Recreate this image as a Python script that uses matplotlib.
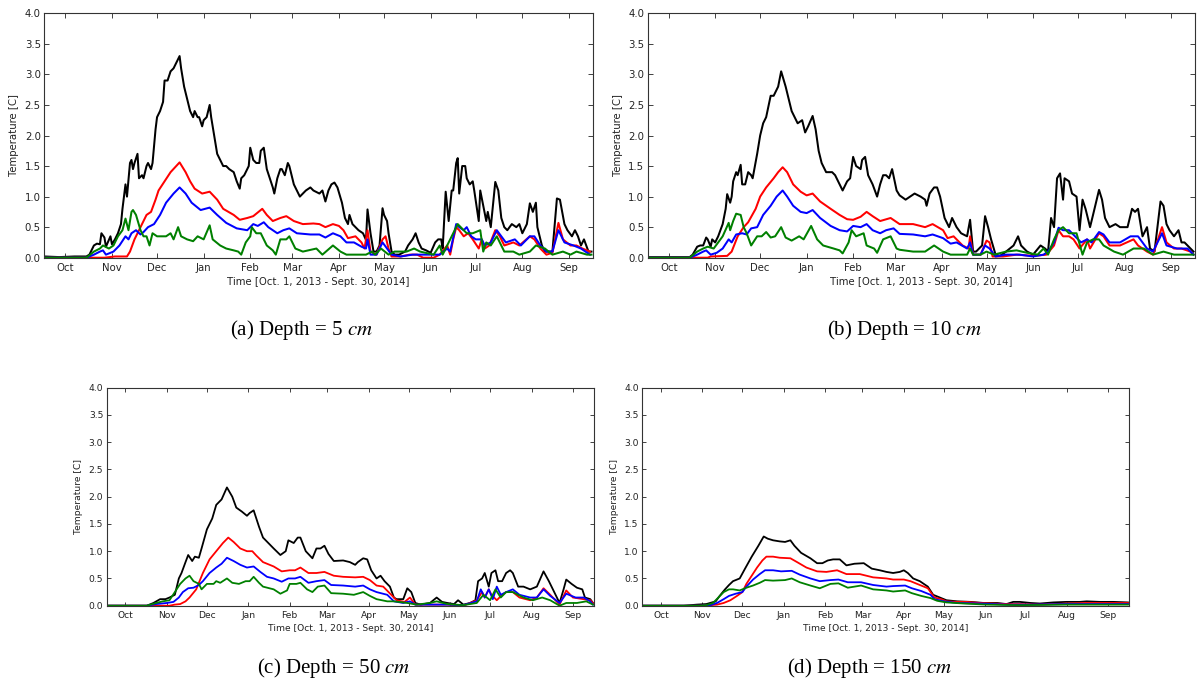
import numpy as np
import matplotlib
matplotlib.use("Agg")
import matplotlib.pyplot as plt
import matplotlib.dates as mdates

# Series are (day since Oct 1 2013, temperature) pairs
# ---- (a) Depth = 5 cm ----
a_black = [(0,0.02),(10,0.01),(20,0.02),(28,0.02),(30,0.05),(33,0.2),(35,0.23),(37,0.22),(38,0.4),(40,0.33),(41,0.18),(44,0.35),(45,0.22),(47,0.3),(49,0.4),(51,0.55),(52,0.8),(54,1.2),(55,1.0),(57,1.55),(58,1.6),(59,1.45),(60,1.55),(62,1.7),(63,1.3),(65,1.35),(66,1.3),(68,1.5),(69,1.55),(71,1.45),(72,1.55),(74,2.1),(75,2.3),(77,2.4),(79,2.55),(80,2.9),(82,2.9),(84,3.05),(86,3.1),(88,3.2),(90,3.3),(91,3.1),(93,2.8),(95,2.6),(97,2.4),(99,2.3),(100,2.4),(102,2.3),(103,2.3),(105,2.15),(106,2.25),(108,2.3),(110,2.5),(111,2.3),(113,2.0),(115,1.7),(117,1.6),(119,1.5),(121,1.5),(123,1.45),(126,1.4),(128,1.25),(130,1.13),(131,1.3),(133,1.35),(136,1.5),(137,1.8),(139,1.6),(141,1.55),(143,1.55),(144,1.75),(146,1.8),(148,1.45),(150,1.3),(152,1.15),(153,1.05),(155,1.3),(157,1.45),(158,1.45),(160,1.35),(162,1.55),(163,1.5),(166,1.2),(168,1.1),(170,1.0),(172,1.05),(174,1.1),(177,1.15),(179,1.1),(183,1.05),(185,1.1),(187,0.92),(189,1.1),(191,1.2),(193,1.23),(195,1.15),(198,0.9),(200,0.65),(202,0.55),(203,0.7),(205,0.55),(209,0.45),(212,0.4),(214,0.29),(215,0.79),(217,0.4),(219,0.1),(221,0.1),(223,0.2),(225,0.81),(226,0.7),(228,0.6),(229,0.4),(231,0.1),(233,0.05),(236,0.05),(240,0.1),(242,0.2),(245,0.3),(247,0.4),(249,0.25),(251,0.15),(254,0.12),(257,0.08),(260,0.25),(262,0.3),(264,0.3),(265,0.15),(267,1.08),(269,0.6),(271,1.1),(272,1.1),(274,1.55),(275,1.63),(276,1.05),(278,1.5),(280,1.5),(281,1.3),(283,1.2),(285,1.25),(286,1.1),(289,0.6),(290,1.1),(292,0.85),(294,0.6),(295,0.75),(297,0.5),(300,1.24),(302,1.1),(304,0.65),(306,0.5),(308,0.45),(311,0.55),(314,0.5),(316,0.55),(318,0.4),(321,0.55),(323,0.89),(325,0.75),(327,0.9),(328,0.5),(331,0.2),(333,0.1),(335,0.1),(338,0.1),(341,0.97),(343,0.95),(346,0.55),(348,0.45),(351,0.35),(353,0.45),(355,0.35),(357,0.2),(359,0.3),(362,0.1),(364,0.1)]
a_red = [(0,0.0),(40,0.0),(47,0.02),(55,0.02),(57,0.1),(60,0.3),(64,0.5),(68,0.7),(71,0.75),(74,0.95),(76,1.1),(80,1.25),(84,1.4),(87,1.48),(90,1.56),(94,1.4),(97,1.25),(100,1.13),(105,1.05),(110,1.08),(115,0.95),(119,0.8),(126,0.7),(130,0.62),(135,0.65),(139,0.68),(145,0.8),(148,0.7),(152,0.6),(157,0.65),(161,0.68),(166,0.6),(172,0.55),(179,0.56),(183,0.55),(187,0.5),(192,0.55),(196,0.52),(199,0.45),(202,0.32),(207,0.35),(211,0.25),(213,0.15),(215,0.45),(217,0.1),(221,0.05),(225,0.3),(227,0.35),(229,0.15),(231,0.02),(237,0.02),(243,0.05),(248,0.05),(252,0.0),(259,0.0),(263,0.05),(268,0.2),(270,0.05),(272,0.3),(274,0.5),(276,0.45),(279,0.35),(282,0.4),(285,0.3),(289,0.15),(291,0.3),(293,0.15),(296,0.2),(300,0.45),(303,0.35),(306,0.2),(312,0.25),(316,0.2),(323,0.35),(326,0.3),(330,0.15),(334,0.05),(338,0.08),(342,0.57),(345,0.3),(350,0.2),(354,0.2),(358,0.15),(363,0.1)]
a_blue = [(0,0.0),(28,0.0),(33,0.05),(37,0.1),(39,0.12),(41,0.05),(46,0.1),(50,0.2),(54,0.35),(56,0.3),(58,0.4),(61,0.45),(64,0.38),(66,0.42),(69,0.5),(73,0.55),(77,0.7),(81,0.9),(86,1.05),(90,1.15),(94,1.05),(98,0.9),(104,0.78),(110,0.82),(115,0.7),(121,0.57),(128,0.48),(135,0.45),(139,0.55),(142,0.52),(146,0.58),(149,0.5),(155,0.4),(159,0.45),(163,0.48),(168,0.4),(177,0.38),(183,0.38),(187,0.33),(192,0.4),(197,0.35),(201,0.25),(206,0.25),(211,0.18),(214,0.15),(215,0.3),(217,0.05),(221,0.05),(225,0.25),(228,0.15),(231,0.05),(237,0.02),(245,0.05),(254,0.05),(263,0.05),(268,0.15),(270,0.1),(274,0.55),(276,0.5),(279,0.45),(281,0.5),(284,0.35),(287,0.3),(291,0.3),(293,0.2),(297,0.25),(301,0.45),(304,0.35),(307,0.25),(313,0.3),(317,0.2),(323,0.35),(326,0.35),(330,0.2),(334,0.1),(338,0.1),(342,0.45),(346,0.25),(352,0.2),(357,0.15),(363,0.05)]
a_green = [(0,0.0),(28,0.0),(33,0.1),(37,0.15),(39,0.2),(43,0.15),(46,0.2),(49,0.35),(52,0.45),(54,0.64),(56,0.45),(58,0.75),(59,0.78),(61,0.7),(64,0.45),(66,0.35),(68,0.35),(70,0.2),(72,0.4),(75,0.35),(78,0.35),(81,0.35),(84,0.4),(86,0.3),(89,0.5),(91,0.35),(95,0.3),(99,0.27),(102,0.35),(106,0.3),(110,0.53),(112,0.3),(117,0.2),(121,0.15),(126,0.12),(129,0.1),(131,0.05),(134,0.25),(137,0.35),(138,0.5),(141,0.4),(144,0.4),(148,0.2),(152,0.12),(154,0.05),(157,0.3),(161,0.3),(163,0.35),(167,0.15),(172,0.1),(181,0.15),(185,0.05),(192,0.2),(197,0.1),(201,0.05),(208,0.05),(214,0.05),(218,0.1),(220,0.05),(224,0.15),(229,0.05),(233,0.1),(241,0.1),(246,0.15),(250,0.1),(259,0.05),(263,0.2),(265,0.05),(270,0.3),(272,0.4),(275,0.55),(279,0.45),(281,0.4),(285,0.4),(290,0.45),(292,0.1),(294,0.25),(297,0.2),(301,0.35),(303,0.25),(306,0.1),(312,0.1),(316,0.05),(323,0.1),(327,0.2),(333,0.15),(338,0.05),(345,0.1),(350,0.05),(354,0.1),(361,0.05),(364,0.05)]

# ---- (b) Depth = 10 cm ----
b_black = [(0,0.01),(28,0.01),(30,0.05),(33,0.18),(35,0.2),(37,0.2),(39,0.33),(40,0.3),(42,0.18),(43,0.3),(45,0.25),(47,0.35),(50,0.55),(52,0.8),(53,1.04),(55,0.9),(56,1.0),(57,1.25),(59,1.4),(60,1.35),(62,1.52),(63,1.2),(65,1.2),(67,1.4),(69,1.35),(70,1.3),(73,1.7),(75,2.0),(77,2.2),(79,2.3),(82,2.65),(84,2.65),(86,2.75),(87,2.8),(89,3.05),(92,2.8),(94,2.6),(96,2.4),(98,2.3),(100,2.2),(103,2.25),(105,2.05),(107,2.15),(110,2.32),(112,2.1),(114,1.75),(116,1.55),(119,1.4),(123,1.4),(125,1.35),(128,1.2),(130,1.1),(133,1.25),(135,1.3),(137,1.65),(139,1.5),(142,1.45),(143,1.6),(145,1.65),(147,1.35),(150,1.2),(153,1.0),(155,1.2),(157,1.35),(159,1.35),(161,1.3),(163,1.45),(166,1.1),(168,1.02),(172,0.95),(175,1.0),(178,1.05),(182,1.0),(185,0.95),(186,0.85),(188,1.05),(191,1.15),(193,1.15),(195,1.0),(198,0.65),(201,0.5),(203,0.65),(206,0.5),(209,0.4),(213,0.35),(215,0.62),(217,0.1),(219,0.1),(223,0.2),(225,0.68),(227,0.5),(229,0.3),(232,0.05),(235,0.03),(239,0.1),(244,0.2),(247,0.35),(249,0.2),(253,0.1),(257,0.05),(262,0.2),(265,0.15),(267,0.1),(269,0.65),(271,0.5),(273,1.3),(275,1.38),(277,0.95),(278,1.3),(281,1.25),(283,1.05),(286,1.0),(288,0.45),(290,0.95),(292,0.8),(295,0.5),(297,0.7),(301,1.11),(303,0.95),(305,0.65),(308,0.5),(312,0.55),(315,0.5),(320,0.5),(323,0.8),(325,0.75),(327,0.8),(330,0.35),(333,0.5),(335,0.15),(338,0.1),(342,0.92),(344,0.85),(346,0.55),(348,0.45),(351,0.35),(354,0.45),(356,0.25),(358,0.25),(362,0.15),(364,0.1)]
b_red = [(0,0.0),(40,0.0),(42,0.02),(53,0.03),(56,0.1),(60,0.35),(64,0.5),(67,0.58),(72,0.8),(75,1.0),(79,1.15),(84,1.3),(87,1.4),(90,1.48),(93,1.4),(97,1.2),(102,1.08),(106,1.02),(110,1.05),(115,0.92),(122,0.8),(128,0.7),(133,0.63),(137,0.62),(142,0.67),(146,0.75),(150,0.68),(155,0.6),(162,0.65),(168,0.55),(177,0.55),(185,0.5),(190,0.55),(197,0.45),(200,0.32),(204,0.35),(210,0.2),(214,0.15),(215,0.35),(217,0.05),(222,0.05),(226,0.28),(228,0.25),(230,0.02),(237,0.02),(246,0.05),(257,0.03),(266,0.05),(271,0.2),(274,0.45),(277,0.35),(281,0.35),(284,0.3),(288,0.15),(293,0.3),(295,0.15),(301,0.4),(304,0.35),(308,0.2),(315,0.2),(324,0.3),(327,0.2),(333,0.1),(337,0.05),(343,0.5),(346,0.25),(351,0.15),(356,0.15),(362,0.1),(364,0.05)]
b_blue = [(0,0.0),(28,0.0),(33,0.05),(37,0.1),(39,0.12),(42,0.05),(46,0.08),(50,0.15),(54,0.3),(56,0.25),(59,0.38),(63,0.4),(66,0.38),(69,0.48),(73,0.5),(77,0.7),(82,0.85),(86,1.0),(90,1.1),(93,1.0),(97,0.85),(102,0.75),(106,0.73),(110,0.78),(115,0.65),(122,0.52),(128,0.45),(133,0.43),(137,0.52),(142,0.5),(146,0.55),(150,0.45),(155,0.4),(159,0.45),(164,0.48),(168,0.39),(177,0.38),(185,0.35),(190,0.38),(197,0.32),(202,0.23),(206,0.25),(213,0.15),(215,0.25),(217,0.05),(222,0.05),(225,0.2),(228,0.15),(232,0.02),(239,0.05),(248,0.05),(257,0.02),(264,0.05),(267,0.1),(271,0.25),(274,0.49),(277,0.45),(281,0.45),(285,0.35),(289,0.25),(293,0.3),(296,0.25),(301,0.42),(304,0.38),(308,0.25),(315,0.25),(322,0.35),(327,0.35),(333,0.15),(337,0.1),(343,0.4),(346,0.2),(353,0.15),(360,0.15),(364,0.05)]
b_green = [(0,0.0),(28,0.0),(33,0.1),(37,0.15),(40,0.18),(44,0.15),(47,0.25),(50,0.35),(54,0.57),(55,0.45),(57,0.6),(59,0.72),(62,0.7),(64,0.5),(66,0.4),(69,0.2),(73,0.35),(76,0.35),(79,0.42),(82,0.33),(85,0.35),(89,0.5),(92,0.33),(96,0.28),(101,0.35),(104,0.3),(109,0.52),(113,0.3),(117,0.2),(124,0.15),(128,0.12),(130,0.07),(134,0.25),(136,0.45),(139,0.35),(144,0.4),(146,0.2),(151,0.15),(153,0.08),(157,0.3),(162,0.35),(166,0.15),(168,0.13),(177,0.1),(185,0.1),(191,0.2),(197,0.1),(202,0.05),(213,0.05),(215,0.15),(217,0.05),(222,0.05),(226,0.1),(231,0.05),(239,0.1),(246,0.12),(253,0.08),(260,0.05),(264,0.15),(267,0.05),(271,0.3),(274,0.45),(277,0.5),(281,0.4),(286,0.4),(290,0.05),(293,0.25),(297,0.3),(301,0.3),(304,0.2),(311,0.1),(317,0.05),(324,0.15),(331,0.15),(337,0.05),(344,0.1),(351,0.05),(360,0.05),(364,0.05)]

# ---- (c) Depth = 50 cm ----
c_black = [(0,0.0),(30,0.0),(35,0.05),(40,0.12),(44,0.12),(47,0.15),(51,0.2),(54,0.5),(56,0.6),(59,0.8),(61,0.93),(64,0.82),(66,0.9),(69,0.88),(71,1.05),(75,1.4),(79,1.6),(82,1.85),(86,1.95),(90,2.17),(94,2.0),(97,1.8),(101,1.73),(105,1.65),(107,1.7),(110,1.75),(114,1.45),(117,1.25),(121,1.15),(125,1.05),(130,0.93),(134,1.0),(136,1.2),(140,1.15),(143,1.25),(145,1.25),(149,1.0),(154,0.87),(157,1.05),(160,1.05),(163,1.1),(166,0.95),(170,0.82),(177,0.83),(182,0.8),(186,0.75),(188,0.8),(192,0.87),(195,0.85),(198,0.65),(202,0.5),(205,0.55),(208,0.45),(212,0.35),(215,0.15),(217,0.12),(222,0.12),(225,0.32),(228,0.25),(231,0.05),(235,0.02),(242,0.05),(247,0.15),(251,0.07),(255,0.05),(260,0.03),(263,0.1),(267,0.02),(272,0.05),(276,0.1),(278,0.45),(281,0.5),(283,0.6),(286,0.35),(288,0.6),(291,0.65),(293,0.45),(296,0.45),(299,0.6),(302,0.65),(304,0.6),(308,0.35),(312,0.35),(317,0.3),(322,0.35),(327,0.63),(331,0.45),(334,0.3),(339,0.05),(342,0.3),(344,0.48),(348,0.4),(352,0.33),(356,0.3),(358,0.15),(362,0.12),(364,0.05)]
c_red = [(0,0.0),(47,0.0),(51,0.02),(55,0.03),(59,0.08),(62,0.15),(67,0.3),(72,0.6),(77,0.85),(82,1.0),(87,1.15),(91,1.25),(95,1.17),(100,1.05),(105,1.0),(109,1.0),(112,0.92),(117,0.8),(125,0.72),(131,0.63),(137,0.65),(141,0.65),(145,0.7),(151,0.6),(157,0.6),(163,0.62),(170,0.55),(177,0.53),(186,0.52),(192,0.53),(197,0.47),(202,0.37),(207,0.35),(213,0.2),(217,0.1),(223,0.07),(227,0.15),(231,0.02),(242,0.02),(255,0.02),(267,0.0),(277,0.1),(281,0.25),(283,0.15),(286,0.3),(288,0.2),(292,0.1),(296,0.2),(299,0.25),(304,0.25),(309,0.15),(317,0.1),(322,0.15),(327,0.32),(332,0.2),(339,0.02),(344,0.28),(349,0.15),(357,0.12),(362,0.1),(364,0.05)]
c_blue = [(0,0.0),(30,0.0),(37,0.03),(45,0.05),(50,0.07),(54,0.15),(57,0.25),(61,0.32),(65,0.33),(69,0.38),(72,0.45),(77,0.6),(82,0.7),(86,0.77),(90,0.88),(95,0.82),(100,0.75),(105,0.7),(110,0.72),(115,0.62),(120,0.53),(125,0.5),(131,0.44),(136,0.5),(141,0.5),(145,0.53),(151,0.42),(157,0.45),(163,0.47),(168,0.38),(177,0.37),(186,0.35),(192,0.37),(197,0.3),(202,0.25),(210,0.2),(215,0.08),(222,0.05),(227,0.08),(231,0.02),(242,0.02),(255,0.02),(267,0.01),(277,0.08),(280,0.3),(283,0.15),(286,0.3),(289,0.12),(292,0.35),(295,0.2),(299,0.25),(304,0.3),(309,0.2),(317,0.15),(322,0.15),(327,0.3),(332,0.18),(339,0.05),(344,0.22),(351,0.15),(357,0.15),(362,0.08),(364,0.02)]
c_green = [(0,0.0),(30,0.0),(37,0.05),(42,0.08),(47,0.1),(51,0.25),(55,0.4),(59,0.5),(62,0.55),(65,0.45),(69,0.4),(71,0.3),(75,0.4),(80,0.4),(82,0.45),(85,0.42),(90,0.5),(94,0.42),(99,0.4),(104,0.45),(107,0.45),(110,0.53),(114,0.42),(117,0.35),(125,0.3),(130,0.22),(135,0.28),(137,0.4),(142,0.4),(145,0.42),(150,0.3),(154,0.25),(158,0.35),(163,0.37),(168,0.23),(177,0.22),(185,0.2),(192,0.25),(197,0.18),(202,0.12),(210,0.08),(215,0.08),(225,0.05),(232,0.02),(242,0.05),(247,0.08),(255,0.03),(267,0.01),(277,0.05),(282,0.2),(287,0.1),(291,0.3),(295,0.15),(299,0.25),(304,0.25),(312,0.15),(319,0.1),(326,0.15),(332,0.1),(339,0.0),(344,0.05),(352,0.05),(359,0.08),(364,0.02)]

# ---- (d) Depth = 150 cm ----
d_black = [(0,0.0),(31,0.0),(41,0.02),(48,0.03),(55,0.08),(58,0.18),(62,0.3),(65,0.38),(68,0.45),(73,0.5),(77,0.68),(82,0.9),(87,1.1),(91,1.27),(94,1.23),(98,1.2),(103,1.18),(107,1.17),(111,1.2),(114,1.1),(119,0.97),(126,0.87),(131,0.78),(135,0.78),(139,0.83),(143,0.85),(148,0.85),(153,0.74),(159,0.77),(166,0.78),(172,0.68),(178,0.65),(183,0.62),(188,0.6),(193,0.62),(196,0.65),(199,0.6),(203,0.5),(208,0.45),(214,0.35),(218,0.2),(223,0.15),(228,0.1),(236,0.08),(246,0.07),(256,0.05),(266,0.05),(273,0.03),(278,0.07),(283,0.07),(291,0.05),(298,0.04),(308,0.06),(318,0.07),(328,0.07),(333,0.08),(343,0.07),(353,0.07),(364,0.06)]
d_red = [(0,0.0),(43,0.0),(51,0.01),(56,0.02),(61,0.05),(66,0.1),(71,0.18),(75,0.25),(78,0.4),(82,0.55),(86,0.7),(90,0.83),(93,0.9),(98,0.9),(103,0.88),(111,0.87),(116,0.8),(123,0.7),(131,0.63),(138,0.62),(146,0.65),(153,0.58),(163,0.58),(173,0.52),(183,0.5),(188,0.48),(196,0.48),(201,0.45),(208,0.38),(214,0.32),(219,0.15),(224,0.12),(228,0.08),(236,0.07),(243,0.07),(253,0.05),(273,0.03),(283,0.03),(298,0.02),(318,0.04),(333,0.05),(353,0.05),(364,0.05)]
d_blue = [(0,0.0),(43,0.0),(51,0.01),(56,0.05),(61,0.12),(65,0.18),(70,0.22),(75,0.25),(78,0.35),(83,0.48),(88,0.58),(92,0.65),(98,0.65),(104,0.63),(112,0.64),(118,0.57),(126,0.5),(133,0.45),(141,0.47),(147,0.48),(154,0.43),(164,0.43),(173,0.38),(183,0.35),(188,0.36),(197,0.37),(202,0.32),(209,0.27),(216,0.2),(219,0.12),(226,0.08),(236,0.05),(253,0.04),(273,0.02),(291,0.02),(318,0.03),(343,0.03),(364,0.03)]
d_green = [(0,0.0),(43,0.0),(48,0.01),(53,0.05),(57,0.15),(61,0.25),(65,0.3),(68,0.3),(73,0.28),(78,0.33),(83,0.37),(88,0.42),(92,0.47),(98,0.46),(107,0.47),(112,0.5),(118,0.43),(126,0.37),(133,0.32),(141,0.4),(147,0.41),(154,0.33),(164,0.37),(173,0.3),(183,0.28),(188,0.26),(197,0.28),(202,0.23),(209,0.18),(216,0.14),(221,0.09),(228,0.06),(241,0.04),(258,0.02),(283,0.01),(318,0.02),(364,0.02)]

captions = [r'(a) Depth = 5 $cm$', r'(b) Depth = 10 $cm$',
            r'(c) Depth = 50 $cm$', r'(d) Depth = 150 $cm$']

start = np.datetime64('2013-10-01')

def to_dates(series):
    arr = np.array(series)
    return start + arr[:, 0].astype(int).astype('timedelta64[D]'), arr[:, 1]

plt.rcParams['mathtext.fontset'] = 'stix'

fig = plt.figure(figsize=(12, 6.84), dpi=100)

# axes boxes in pixels: left, right, top, bottom
boxes = [(44.3, 593.0, 13.3, 257.7), (647.7, 1195.0, 13.3, 257.7),
         (106.7, 594.3, 387.7, 605.7), (642.3, 1129.3, 387.7, 605.7)]
panels = [(a_black, a_red, a_blue, a_green), (b_black, b_red, b_blue, b_green),
          (c_black, c_red, c_blue, c_green), (d_black, d_red, d_blue, d_green)]
cap_pos = [(302, 330), (904, 330), (334, 668), (870, 668)]

for i, (box, lines) in enumerate(zip(boxes, panels)):
    l, r, t, b = box
    ax = fig.add_axes([l / 1200, 1 - b / 684, (r - l) / 1200, (b - t) / 684])
    small = i >= 2
    fs = 6.6 if small else 7.3
    lw = 1.3 if small else 1.45
    for s, c in zip(lines, ['k', 'r', 'b', 'g']):
        d, v = to_dates(s)
        ax.plot(d, v, color=c, lw=lw)
    ax.set_xlim(np.datetime64('2013-10-01'), np.datetime64('2014-10-01'))
    ax.set_ylim(0, 4)
    ax.set_yticks(np.arange(0, 4.01, 0.5))
    ax.xaxis.set_major_locator(mdates.MonthLocator(bymonthday=15))
    ax.xaxis.set_major_formatter(mdates.DateFormatter('%b'))
    ax.tick_params(direction='in', top=True, right=True, labelsize=fs,
                   length=3.5 if not small else 3, width=0.6, colors='#222222', pad=2.5)
    ax.tick_params(axis='x', pad=3.5)
    for sp in ax.spines.values():
        sp.set_linewidth(0.8)
        sp.set_color('#333333')
    ax.set_xlabel('Time [Oct. 1, 2013 - Sept. 30, 2014]', fontsize=fs, labelpad=3, color='#222222')
    ax.set_ylabel('Temperature [C]', fontsize=fs, labelpad=4, color='#222222')
    fig.text(cap_pos[i][0] / 1200, 1 - cap_pos[i][1] / 684, captions[i],
             family='Liberation Serif', fontsize=15, ha='center', va='center')

fig.savefig('out.png', dpi=100)
